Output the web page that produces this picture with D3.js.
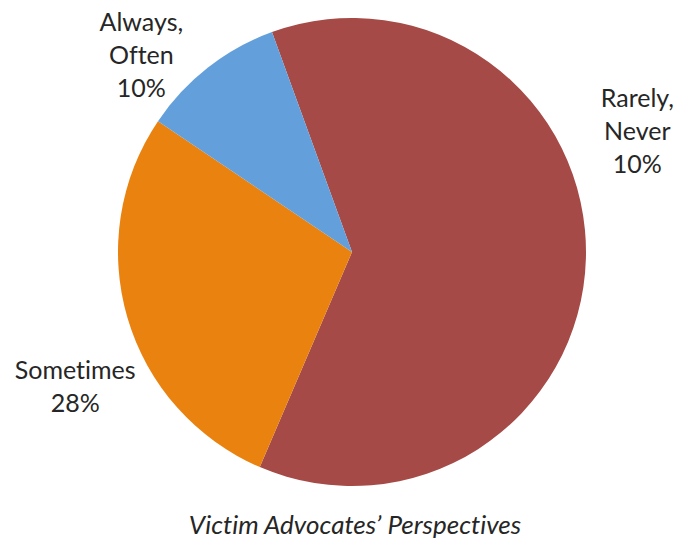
<!DOCTYPE html>
<html>
<head>
<meta charset="utf-8">
<script src="https://cdn.jsdelivr.net/npm/d3@7"></script>
<style>
  html, body { margin: 0; padding: 0; background: #fff; }
  svg { display: block; }
  text { font-variant-ligatures: none; font-feature-settings: "liga" 0, "clig" 0; }
  .lbl { font-family: Lato, "Open Sans", sans-serif; font-size: 25px; fill: #262626; }
  .title { font-family: Lato, "Open Sans", sans-serif; font-size: 26px; font-style: italic; fill: #262626; }
</style>
</head>
<body>
<div id="chart"></div>
<script>
// slices, clockwise from the start angle
const categories = ["Rarely, Never", "Sometimes", "Always, Often"];
const values     = [62, 28, 10];
// label text as printed on the chart
const labelLines = [["Rarely,", "Never", "10%"], ["Sometimes", "28%"], ["Always,", "Often", "10%"]];
const colours    = ["#A54A46", "#EA820F", "#63A0DB"];

// label placement (degrees clockwise from 12 o'clock, distance from centre)
const labelAngle  = [67, 244, 313];
const labelRadius = [310, 308, 288];

const W = 680, H = 542;
const cx = 352, cy = 252, R = 234;
const lineH = 33;
const rad = d => d * Math.PI / 180;

const svg = d3.select("#chart").append("svg")
  .attr("width", W).attr("height", H)
  .attr("viewBox", `0 0 ${W} ${H}`);

const g = svg.append("g").attr("transform", `translate(${cx},${cy})`);

const pie = d3.pie().sort(null).value(d => d.value)
  .startAngle(rad(-20)).endAngle(rad(340));
const arc = d3.arc().innerRadius(0).outerRadius(R);

const data = categories.map((c, i) => ({ name: c, value: values[i], lines: labelLines[i], colour: colours[i] }));

g.selectAll(".slice")
  .data(pie(data))
  .enter().append("path")
  .attr("class", "slice")
  .attr("d", arc)
  .attr("fill", d => d.data.colour);

// Data labels
const labels = g.selectAll(".lbl")
  .data(data)
  .enter().append("text")
  .attr("class", "lbl")
  .attr("text-anchor", "middle")
  .attr("transform", (d, i) => {
    const [x, y] = d3.pointRadial(rad(labelAngle[i]), labelRadius[i]);
    return `translate(${x},${y})`;
  });

labels.selectAll("tspan")
  .data(d => d.lines.map((t, j) => ({ t, j, n: d.lines.length })))
  .enter().append("tspan")
  .attr("x", 0)
  .attr("y", d => (d.j - (d.n - 1) / 2) * lineH)
  .attr("dy", "0.35em")
  .text(d => d.t);

svg.append("text")
  .attr("class", "title")
  .attr("text-anchor", "middle")
  .attr("x", 355)
  .attr("y", 534)
  .text("Victim Advocates\u2019 Perspectives");
</script>
</body>
</html>
